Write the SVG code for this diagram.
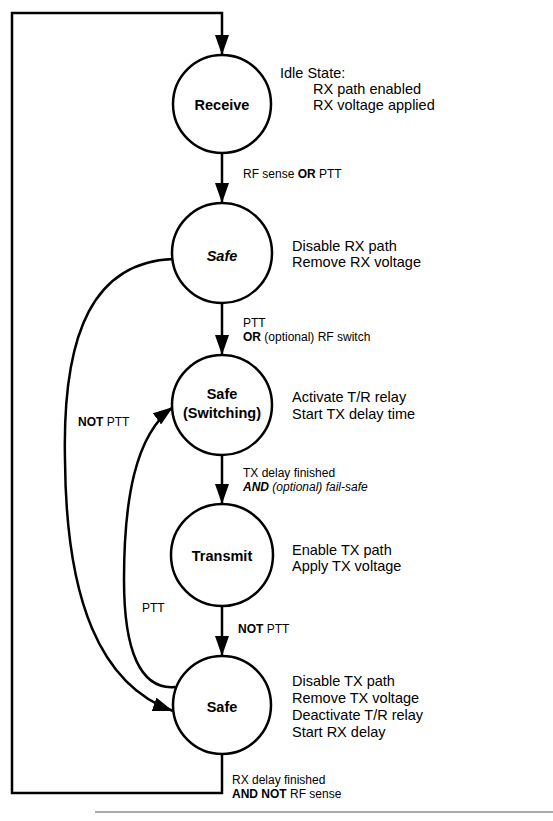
<svg xmlns="http://www.w3.org/2000/svg" width="553" height="821" viewBox="0 0 553 821">
<defs>
<marker id="arr" markerUnits="userSpaceOnUse" markerWidth="20" markerHeight="14" refX="20" refY="7" orient="auto">
<path d="M0,0 L20,7 L0,14 z" fill="#000"/>
</marker>
<style>
.st{fill:#fff;stroke:#000;stroke-width:2.5}
.nl{font-family:"Liberation Sans",Arial,Helvetica,sans-serif;font-size:14.5px;font-weight:bold;text-anchor:middle;fill:#000}
.rt{font-family:"Liberation Sans",Arial,Helvetica,sans-serif;font-size:14.5px;fill:#000}
.tl{font-family:"Liberation Sans",Arial,Helvetica,sans-serif;font-size:12px;fill:#000}
.cn{fill:none;stroke:#000;stroke-width:2.5}
</style>
</defs>
<rect width="553" height="821" fill="#fff"/>
<g id="connectors">
<path class="cn" d="M222,754 L222,793 L12,793 L12,13 L222,13 L222,55" marker-end="url(#arr)"/>
<path class="cn" d="M222,153 L222,203" marker-end="url(#arr)"/>
<path class="cn" d="M222,303 L222,355" marker-end="url(#arr)"/>
<path class="cn" d="M222,455 L222,504" marker-end="url(#arr)"/>
<path class="cn" d="M222,606 L222,656" marker-end="url(#arr)"/>
<path class="cn" d="M173,259 C95,262 62,330 65,460 C66,600 100,685 173,711" marker-end="url(#arr)"/>
<path class="cn" d="M175,687 C140,690 124,650 124,580 C124,500 135,435 173,407" marker-end="url(#arr)"/>
<line x1="95" y1="812" x2="553" y2="812" stroke="#aaa" stroke-width="2"/>
</g>
<g id="labels">
<text class="tl" x="243" y="178">RF sense <tspan font-weight="bold">OR</tspan> PTT</text>
<text class="tl" x="243" y="327">PTT</text>
<text class="tl" x="243" y="341"><tspan font-weight="bold">OR</tspan> (optional) RF switch</text>
<text class="tl" x="243" y="477">TX delay finished</text>
<text class="tl" x="243" y="491" font-style="italic"><tspan font-weight="bold">AND</tspan> (optional) fail-safe</text>
<text class="tl" x="238" y="633"><tspan font-weight="bold">NOT</tspan> PTT</text>
<text class="tl" x="78" y="426"><tspan font-weight="bold">NOT</tspan> PTT</text>
<text class="tl" x="142" y="612">PTT</text>
<text class="tl" x="232" y="784">RX delay finished</text>
<text class="tl" x="232" y="798"><tspan font-weight="bold">AND NOT</tspan> RF sense</text>
</g>
<g id="receive">
<circle class="st" cx="222" cy="104" r="49"/>
<text class="nl" x="222" y="110">Receive</text>
<text class="rt" x="280" y="78">Idle State:</text>
<text class="rt" x="313" y="94">RX path enabled</text>
<text class="rt" x="313" y="110">RX voltage applied</text>
</g>
<g id="safe1">
<circle class="st" cx="222" cy="253" r="50"/>
<text class="nl" x="222" y="261" font-style="italic">Safe</text>
<text class="rt" x="292" y="251">Disable RX path</text>
<text class="rt" x="292" y="267">Remove RX voltage</text>
</g>
<g id="safe-switching">
<circle class="st" cx="222" cy="405" r="50"/>
<text class="nl" x="222" y="399">Safe</text>
<text class="nl" x="222" y="418">(Switching)</text>
<text class="rt" x="292" y="402">Activate T/R relay</text>
<text class="rt" x="292" y="419">Start TX delay time</text>
</g>
<g id="transmit">
<circle class="st" cx="222" cy="555" r="51"/>
<text class="nl" x="222" y="561">Transmit</text>
<text class="rt" x="292" y="555">Enable TX path</text>
<text class="rt" x="292" y="571">Apply TX voltage</text>
</g>
<g id="safe2">
<circle class="st" cx="222" cy="705" r="49"/>
<text class="nl" x="222" y="712">Safe</text>
<text class="rt" x="292" y="686">Disable TX path</text>
<text class="rt" x="292" y="703">Remove TX voltage</text>
<text class="rt" x="292" y="720">Deactivate T/R relay</text>
<text class="rt" x="292" y="737">Start RX delay</text>
</g>
</svg>
